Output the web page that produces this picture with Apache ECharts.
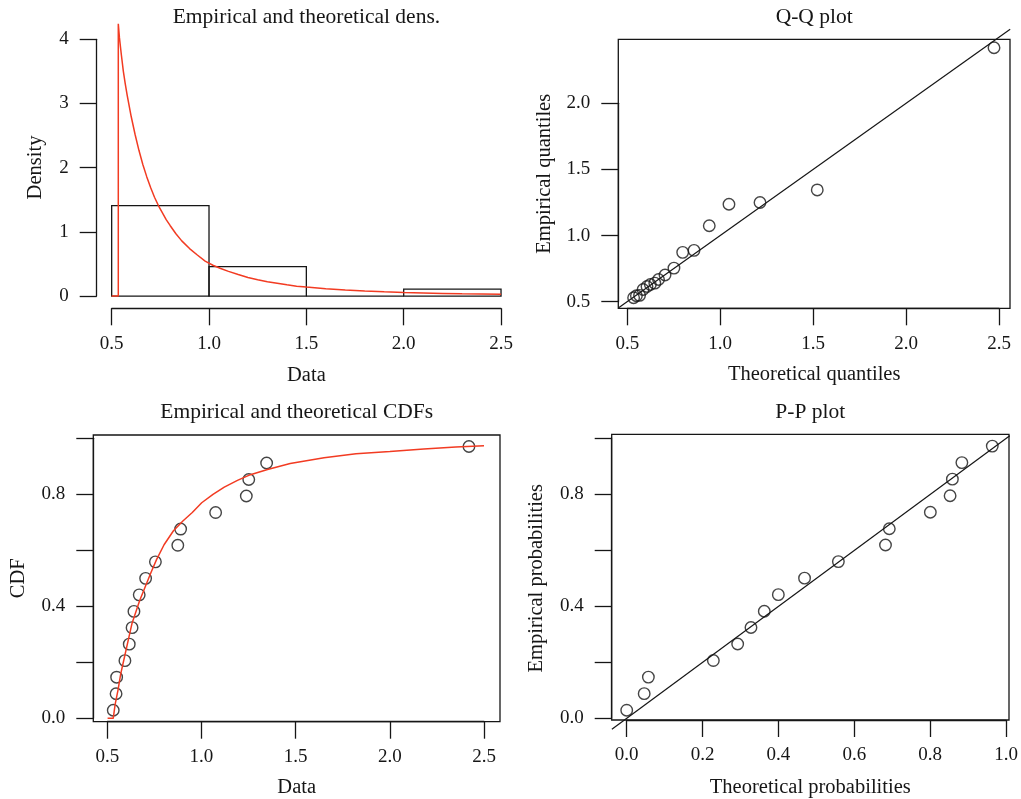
<!DOCTYPE html>
<html><head><meta charset="utf-8">
<script src="https://cdn.jsdelivr.net/npm/echarts@6/dist/echarts.min.js"></script>
<style>html,body{margin:0;padding:0;background:#fff}#c{width:1021px;height:799px}</style>
</head><body><div id="c"></div>
<script>
// ---------- data ----------
const histBreaks = [0.5, 1.0, 1.5, 2.0, 2.5];
const histDensity = [1.41, 0.46, 0.0, 0.11];

const densX = [0.5, 0.534, 0.534, 0.54, 0.55, 0.56, 0.57, 0.58, 0.60, 0.62, 0.64, 0.66, 0.68, 0.70, 0.72, 0.74, 0.76, 0.78, 0.80, 0.83, 0.86, 0.90, 0.94, 0.98, 1.02, 1.06, 1.10, 1.15, 1.20, 1.25, 1.30, 1.35, 1.40, 1.45, 1.50, 1.60, 1.70, 1.80, 1.90, 2.00, 2.10, 2.20, 2.30, 2.40, 2.50];
const densY = [0, 0, 4.24, 4.02, 3.75, 3.5, 3.3, 3.12, 2.8, 2.52, 2.27, 2.05, 1.86, 1.69, 1.54, 1.41, 1.3, 1.19, 1.1, 0.97, 0.86, 0.74, 0.64, 0.545, 0.48, 0.43, 0.385, 0.335, 0.29, 0.255, 0.225, 0.2, 0.175, 0.155, 0.14, 0.115, 0.095, 0.08, 0.067, 0.057, 0.049, 0.042, 0.036, 0.032, 0.028];

const dataSorted = [0.530, 0.545, 0.548, 0.592, 0.615, 0.630, 0.640, 0.668, 0.702, 0.754, 0.873, 0.888, 1.074, 1.237, 1.250, 1.345, 2.420];
const ecdfProb = [0.029, 0.088, 0.147, 0.206, 0.265, 0.324, 0.382, 0.441, 0.500, 0.559, 0.618, 0.676, 0.735, 0.794, 0.853, 0.912, 0.971];

const cdfX = [0.50, 0.53, 0.54, 0.555, 0.57, 0.59, 0.61, 0.63, 0.65, 0.67, 0.70, 0.73, 0.76, 0.80, 0.85, 0.90, 0.95, 1.00, 1.06, 1.12, 1.19, 1.25, 1.35, 1.47, 1.65, 1.82, 2.00, 2.18, 2.35, 2.50];
const cdfY = [0, 0, 0.05, 0.10, 0.16, 0.22, 0.28, 0.34, 0.38, 0.42, 0.47, 0.52, 0.567, 0.62, 0.67, 0.705, 0.735, 0.77, 0.80, 0.826, 0.85, 0.868, 0.889, 0.91, 0.931, 0.945, 0.953, 0.962, 0.969, 0.974];

const qqTheo = [0.534, 0.549, 0.566, 0.585, 0.606, 0.624, 0.648, 0.668, 0.703, 0.751, 0.798, 0.859, 0.941, 1.047, 1.214, 1.522, 2.473];
const ppTheo = [0.0, 0.046, 0.057, 0.228, 0.292, 0.327, 0.362, 0.399, 0.468, 0.557, 0.681, 0.691, 0.799, 0.851, 0.857, 0.882, 0.962];

const qqLine = [0.4516, 2.56];
const ppLine = [-0.039, 1.008];

const densXTicks = ['0.5', '1.0', '1.5', '2.0', '2.5'];
const densYTicks = ['0', '1', '2', '3', '4'];
const qqXTicks = ['0.5', '1.0', '1.5', '2.0', '2.5'];
const qqYTicks = ['0.5', '1.0', '1.5', '2.0'];
const cdfXTicks = ['0.5', '1.0', '1.5', '2.0', '2.5'];
const cdfYTicks = ['0.0', '', '0.4', '', '0.8', ''];
const ppXTicks = ['0.0', '0.2', '0.4', '0.6', '0.8', '1.0'];
const ppYTicks = ['0.0', '', '0.4', '', '0.8', ''];

// ---------- layout / style ----------
const FONT = 'Liberation Serif';
const INK = '#161616';
const RED = '#f23b22';
const TICK_FS = 19, NAME_FS = 20.5, TITLE_FS = 21.5;

const grids = [
  {left: 96.1, top: 7.1, width: 420.5, height: 301.2},
  {left: 111.7, top: 7.1, width: 389.3, height: 301.2},
  {left: 96.7, top: 39.3, width: 420, height: 256.7},
  {left: 618.3, top: 39.3, width: 391.7, height: 269, box: true},
  {left: 627.3, top: 39.3, width: 371.7, height: 269},
  {left: 618.3, top: 103.3, width: 391.7, height: 198.4},
  {left: 93.3, top: 435, width: 406.7, height: 286.7, box: true},
  {left: 107.3, top: 435, width: 376.7, height: 286.7},
  {left: 93.3, top: 438.3, width: 406.7, height: 280},
  {left: 611.7, top: 434.3, width: 397.3, height: 285.7, box: true},
  {left: 626.7, top: 434.3, width: 380, height: 285.7},
  {left: 611.7, top: 437.9, width: 397.3, height: 280.4}
];
const dataRanges = [
  {x: [0.42, 2.58], y: [-0.19, 4.5]},
  {x: [0.4516, 2.559], y: [0.45, 2.484]},
  {x: [0.424, 2.585], y: [-0.012, 1.012]},
  {x: [-0.0395, 1.006], y: [-0.006, 1.013]}
];
const xTickDefs = [
  {min: 0.5, max: 2.5, step: 0.5, labels: densXTicks},
  {min: 0.5, max: 2.5, step: 0.5, labels: qqXTicks},
  {min: 0.5, max: 2.5, step: 0.5, labels: cdfXTicks},
  {min: 0, max: 1, step: 0.2, labels: ppXTicks}
];
const yTickDefs = [
  {min: 0, max: 4, step: 1, labels: densYTicks},
  {min: 0.5, max: 2.0, step: 0.5, labels: qqYTicks},
  {min: 0, max: 1, step: 0.2, labels: cdfYTicks},
  {min: 0, max: 1, step: 0.2, labels: ppYTicks}
];

const hidden = (gi, r) => ({gridIndex: gi, type: 'value', min: r[0], max: r[1], show: false, splitLine: {show: false}});
const lineStyle = {color: INK, width: 1.3};
const tickAxis = (gi, d, isX) => ({
  gridIndex: gi, type: 'value', min: d.min, max: d.max, interval: d.step,
  axisLine: {show: true, lineStyle},
  axisTick: {show: true, length: 17, lineStyle},
  splitLine: {show: false},
  axisLabel: {
    show: true, margin: isX ? 26 : 28, fontFamily: FONT, fontSize: TICK_FS, color: INK,
    showMinLabel: true, showMaxLabel: true,
    formatter: (v, i) => d.labels[i] !== undefined ? d.labels[i] : ''
  }
});

const xAxes = [], yAxes = [];
for (let p = 0; p < 4; p++) {
  const g = p * 3;
  xAxes.push(hidden(g, dataRanges[p].x));
  yAxes.push(hidden(g, dataRanges[p].y));
  xAxes.push(tickAxis(g + 1, xTickDefs[p], true));
  yAxes.push(hidden(g + 1, [0, 1]));
  xAxes.push(hidden(g + 2, [0, 1]));
  yAxes.push(tickAxis(g + 2, yTickDefs[p], false));
}

const zip = (a, b) => a.map((v, i) => [v, b[i]]);
const circleStyle = {color: 'rgba(0,0,0,0)', borderColor: INK, borderWidth: 1.4};

const histData = histDensity.map((h, i) => [histBreaks[i], histBreaks[i + 1], h]);

const series = [
  {
    type: 'custom', xAxisIndex: 0, yAxisIndex: 0, data: histData, z: 2, clip: false,
    renderItem: (params, api) => {
      const p0 = api.coord([api.value(0), 0]);
      const p1 = api.coord([api.value(1), api.value(2)]);
      return {type: 'rect', shape: {x: p0[0], y: p1[1], width: p1[0] - p0[0], height: p0[1] - p1[1]},
        style: {fill: 'none', stroke: INK, lineWidth: 1.3}};
    }
  },
  {type: 'line', xAxisIndex: 0, yAxisIndex: 0, data: zip(densX, densY), symbol: 'none', z: 3, clip: false,
    lineStyle: {color: RED, width: 1.5}},
  {type: 'line', xAxisIndex: 3, yAxisIndex: 3, data: zip(qqLine, qqLine), symbol: 'none', clip: false,
    lineStyle: {color: INK, width: 1.2}},
  {type: 'scatter', xAxisIndex: 3, yAxisIndex: 3, data: zip(qqTheo, dataSorted), symbol: 'circle', symbolSize: 11.5,
    itemStyle: circleStyle},
  {type: 'line', xAxisIndex: 6, yAxisIndex: 6, data: zip(cdfX, cdfY), symbol: 'none', clip: false,
    lineStyle: {color: RED, width: 1.5}},
  {type: 'scatter', xAxisIndex: 6, yAxisIndex: 6, data: zip(dataSorted, ecdfProb), symbol: 'circle', symbolSize: 11.5,
    itemStyle: circleStyle},
  {type: 'line', xAxisIndex: 9, yAxisIndex: 9, data: zip(ppLine, ppLine), symbol: 'none', clip: false,
    lineStyle: {color: INK, width: 1.2}},
  {type: 'scatter', xAxisIndex: 9, yAxisIndex: 9, data: zip(ppTheo, ecdfProb), symbol: 'circle', symbolSize: 11.5,
    itemStyle: circleStyle}
];

const texts = [
  ['Empirical and theoretical dens.', 306.4, 17, 0, TITLE_FS],
  ['Q-Q plot', 814.2, 17, 0, TITLE_FS],
  ['Empirical and theoretical CDFs', 296.7, 412, 0, TITLE_FS],
  ['P-P plot', 810.3, 412, 0, TITLE_FS],
  ['Data', 306.4, 376, 0, NAME_FS],
  ['Theoretical quantiles', 814.2, 375, 0, NAME_FS],
  ['Data', 296.7, 787.5, 0, NAME_FS],
  ['Theoretical probabilities', 810.3, 787.5, 0, NAME_FS],
  ['Density', 36, 167.5, Math.PI / 2, NAME_FS],
  ['Empirical quantiles', 545, 173.8, Math.PI / 2, NAME_FS],
  ['CDF', 18.3, 578.3, Math.PI / 2, NAME_FS],
  ['Empirical probabilities', 536.7, 578.3, Math.PI / 2, NAME_FS]
];

const option = {
  backgroundColor: '#fff',
  animation: false,
  grid: grids.map(g => ({left: g.left, top: g.top, width: g.width, height: g.height,
    show: !!g.box, borderColor: INK, borderWidth: 1.3, backgroundColor: 'rgba(0,0,0,0)', containLabel: false})),
  xAxis: xAxes,
  yAxis: yAxes,
  series: series,
  graphic: texts.map(t => ({
    type: 'text', x: t[1], y: t[2], rotation: t[3], silent: true,
    style: {text: t[0], x: 0, y: 0, fill: INK, fontFamily: FONT, fontSize: t[4],
      align: 'center', verticalAlign: 'middle', textAlign: 'center', textVerticalAlign: 'middle'}
  }))
};

const chart = echarts.init(document.getElementById('c'), null, {renderer: 'canvas'});
chart.setOption(option);
</script>
</body></html>
